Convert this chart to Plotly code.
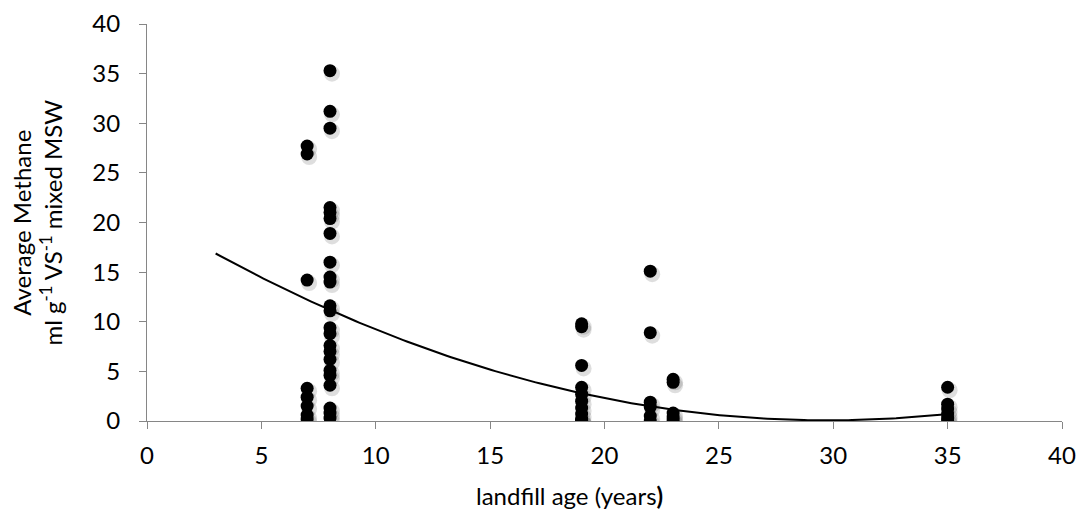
import numpy as np
import plotly.graph_objects as go

# landfill age (years) and average methane (ml g-1 VS-1 mixed MSW)
age_7 = [27.7, 26.9, 14.2, 3.3, 2.4, 1.5, 0.6, 0.2]
age_8 = [35.3, 31.2, 29.5, 21.5, 21.0, 20.4, 18.9, 16.0, 14.5, 14.0, 11.6, 11.1,
         9.4, 8.8, 7.6, 7.0, 6.2, 5.1, 4.6, 3.6, 1.3, 0.8, 0.3]
age_19 = [9.8, 9.5, 5.6, 3.4, 2.7, 2.0, 1.3, 0.7, 0.2, 0.0, 0.0]
age_22 = [15.1, 8.9, 1.9, 1.4, 0.5, 0.0]
age_23 = [4.2, 3.9, 0.8, 0.4, 0.1]
age_35 = [3.4, 1.7, 1.2, 0.7, 0.3, 0.0]

groups = {7: age_7, 8: age_8, 19: age_19, 22: age_22, 23: age_23, 35: age_35}
x_vals = []
y_vals = []
for age, vals in groups.items():
    x_vals += [age] * len(vals)
    y_vals += vals

x_ticks = [0, 5, 10, 15, 20, 25, 30, 35, 40]
y_ticks = [0, 5, 10, 15, 20, 25, 30, 35, 40]

# polynomial (order 2) trendline as shown in the chart
trend_coef = [0.0235, -1.398, 20.86]
trend_start, trend_end = 3, 35
tx = np.linspace(trend_start, trend_end, 200)
ty = np.polyval(trend_coef, tx)

font = "Lato, 'Open Sans', sans-serif"
FS = 24

fig = go.Figure()
# soft marker shadow on an overlay axis shifted by a few pixels
fig.add_trace(go.Scatter(x=x_vals, y=y_vals, mode="markers",
                         marker=dict(size=16, color="rgba(0,0,0,0.13)", line=dict(width=0)),
                         xaxis="x2", yaxis="y2", hoverinfo="skip", showlegend=False))
fig.add_trace(go.Scatter(x=x_vals, y=y_vals, mode="markers",
                         marker=dict(size=13, color="black", line=dict(width=0)),
                         showlegend=False))
fig.add_trace(go.Scatter(x=tx, y=ty, mode="lines", line=dict(color="black", width=2),
                         showlegend=False, hoverinfo="skip"))

# page body has an 8px margin, so the figure is sized/offset to compensate
W, H = 1070, 503
ml, mr, mt, mb = 139, 16, 16, 90
pw = W - ml - mr
ph = H - mt - mb
dx = 2 * 40 / pw
dy = 3 * 40 / ph

axis_common = dict(showgrid=False, zeroline=False, showline=True, linecolor="#868686",
                   linewidth=1, ticks="outside", ticklen=7, tickcolor="#868686",
                   automargin=False,
                   tickfont=dict(family=font, size=FS, color="black"))

fig.update_layout(
    width=W, height=H,
    margin=dict(l=ml, r=mr, t=mt, b=mb),
    paper_bgcolor="white", plot_bgcolor="white",
    xaxis=dict(range=[0, 40], tickvals=x_ticks, ticklabelstandoff=6, **axis_common),
    yaxis=dict(range=[0, 40], tickvals=y_ticks, ticklabelstandoff=14, **axis_common),
    xaxis2=dict(range=[0 - dx, 40 - dx], overlaying="x", visible=False),
    yaxis2=dict(range=[0 + dy, 40 + dy], overlaying="y", visible=False),
    annotations=[
        dict(text="landfill age (years<b>)</b>", xref="paper", yref="paper",
             x=0.462, y=0, yshift=-74, xanchor="center", yanchor="middle",
             showarrow=False, font=dict(family=font, size=FS, color="black")),
        dict(text="Average Methane<br>ml g<sup>-1</sup> VS<sup>-1</sup> mixed MSW",
             xref="paper", yref="paper", x=0, y=0.5, xshift=-111,
             xanchor="center", yanchor="middle", textangle=-90,
             showarrow=False, font=dict(family=font, size=FS, color="black")),
    ],
)

fig.write_html("out.html")
